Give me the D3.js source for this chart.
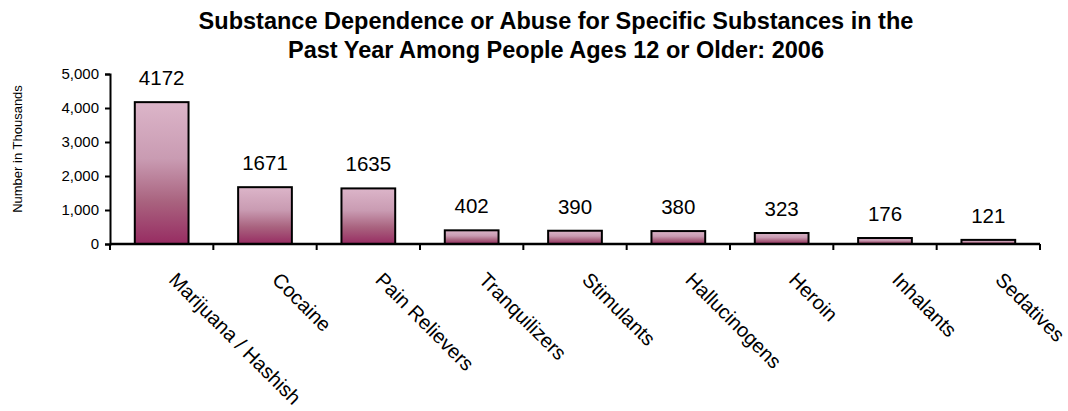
<!DOCTYPE html>
<html>
<head>
<meta charset="utf-8">
<script src="https://cdn.jsdelivr.net/npm/d3@7"></script>
<style>
  body { margin: 0; background: #fff; }
  svg { font-family: "Liberation Sans", Arial, sans-serif; }
</style>
</head>
<body>
<div id="chart"></div>
<script>
// data
const categories = ['Marijuana / Hashish', 'Cocaine', 'Pain Relievers', 'Tranquilizers',
  'Stimulants', 'Hallucinogens', 'Heroin', 'Inhalants', 'Sedatives'];
const values = [4172, 1671, 1635, 402, 390, 380, 323, 176, 121];
const yTicks = [0, 1000, 2000, 3000, 4000, 5000];
const titleLines = ['Substance Dependence or Abuse for Specific Substances in the',
  'Past Year Among People Ages 12 or Older: 2006'];

const width = 1068, height = 411;
const margin = {t:74, r:28, b:167, l:110};
const w = width - margin.l - margin.r;
const h = height - margin.t - margin.b;

const svg = d3.select('#chart').append('svg')
  .attr('width', width)
  .attr('height', height);

// bar gradient
const grad = svg.append('defs').append('linearGradient')
  .attr('id', 'barGrad')
  .attr('x1', 0).attr('y1', 0).attr('x2', 0).attr('y2', 1);
grad.append('stop').attr('offset', '0%').attr('stop-color', '#dcb5c9');
grad.append('stop').attr('offset', '40%').attr('stop-color', '#c99bb2');
grad.append('stop').attr('offset', '70%').attr('stop-color', '#a9637f');
grad.append('stop').attr('offset', '100%').attr('stop-color', '#972c62');

// title
svg.selectAll('.title')
  .data(titleLines)
  .join('text')
  .attr('class', 'title')
  .attr('x', 556)
  .attr('y', (d, i) => i ? 58 : 29)
  .attr('text-anchor', 'middle')
  .style('font-size', '23.5px')
  .style('font-weight', 'bold')
  .text(d => d);

const plot = svg.append('g')
  .attr('transform', `translate(${margin.l},${margin.t})`);

// scales
const scaleX = d3.scaleBand()
  .domain(categories)
  .range([0, w])
  .paddingInner(0.48)
  .paddingOuter(0.24);
const scaleY = d3.scaleLinear()
  .domain([0, 5000])
  .range([h, 0]);

// bars
plot.selectAll('.bar')
  .data(values)
  .join('rect')
  .attr('class', 'bar')
  .attr('x', (d, i) => scaleX(categories[i]))
  .attr('y', d => scaleY(d))
  .attr('width', scaleX.bandwidth())
  .attr('height', d => h - scaleY(d))
  .style('fill', 'url(#barGrad)')
  .style('stroke', '#000')
  .style('stroke-width', 2);

// value labels
plot.selectAll('.val')
  .data(values)
  .join('text')
  .attr('class', 'val')
  .attr('x', (d, i) => scaleX(categories[i]) + scaleX.bandwidth() / 2)
  .attr('y', d => scaleY(d) - 17)
  .attr('text-anchor', 'middle')
  .style('font-size', '20.5px')
  .text(d => d);

// y axis
const axisY = d3.axisLeft(scaleY)
  .tickValues(yTicks)
  .tickSize(5)
  .tickPadding(6)
  .tickFormat(d3.format(','));
const gy = plot.append('g').call(axisY);
gy.select('.domain').attr('stroke-width', 2);
gy.selectAll('.tick line').attr('stroke-width', 2);
gy.selectAll('.tick text')
  .style('font-size', '15px')
  .style('font-family', 'inherit');

// x axis: line plus ticks at band boundaries
const step = scaleX.step();
const gx = plot.append('g').attr('transform', `translate(0,${h})`);
gx.append('line')
  .attr('x1', 0).attr('x2', w)
  .attr('stroke', '#000').attr('stroke-width', 2.5);
gx.selectAll('.xtick')
  .data(d3.range(categories.length + 1))
  .join('line')
  .attr('class', 'xtick')
  .attr('x1', i => i * step).attr('x2', i => i * step)
  .attr('y1', 0).attr('y2', 6)
  .attr('stroke', '#000').attr('stroke-width', 2);

// category labels, rotated
gx.selectAll('.cat')
  .data(categories)
  .join('text')
  .attr('class', 'cat')
  .attr('transform', d =>
    `translate(${scaleX(d) + scaleX.bandwidth() / 2 + 6},37) rotate(45)`)
  .style('font-size', '20px')
  .text(d => d);

// y axis label
svg.append('text')
  .attr('transform', `translate(22,149) rotate(-90)`)
  .attr('text-anchor', 'middle')
  .style('font-size', '13px')
  .text('Number in Thousands');
</script>
</body>
</html>
